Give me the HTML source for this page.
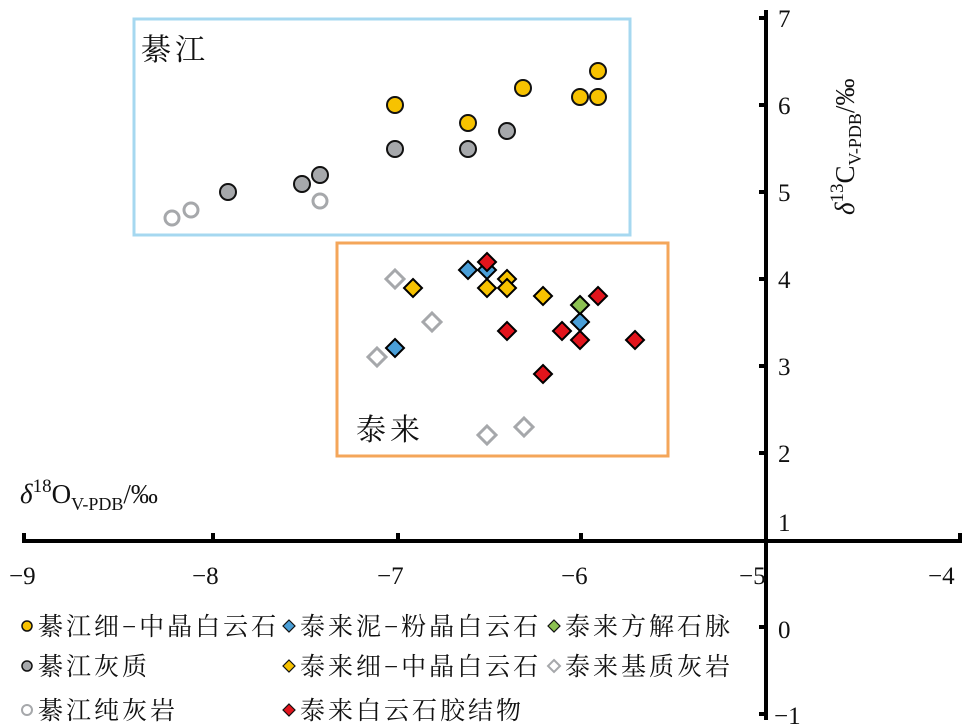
<!DOCTYPE html>
<html><head><meta charset="utf-8"><style>
body{margin:0;background:#fff}
svg{display:block}
text{font-family:"Liberation Serif","Noto Serif CJK SC",serif;fill:#111}
.cj{font-family:"Liberation Serif","Noto Serif CJK SC","Noto Sans CJK SC",serif}
</style></head><body>
<svg width="969" height="726" viewBox="0 0 969 726" xmlns="http://www.w3.org/2000/svg">
<rect x="134" y="19" width="496" height="216" fill="none" stroke="#a6d8f0" stroke-width="3"/>
<rect x="337" y="243" width="331" height="213" fill="none" stroke="#f4a65a" stroke-width="3"/>
<text x="141" y="60" font-size="30" letter-spacing="4" class="cj">綦江</text>
<text x="356" y="440" font-size="30" letter-spacing="4" class="cj">泰来</text>
<g stroke="#000" stroke-width="4" fill="none">
<line x1="22" y1="541" x2="962" y2="541"/>
<line x1="766" y1="10" x2="766" y2="720"/>
<path d="M24 541v-8M213 541v-8M398 541v-8M581 541v-8M960 541v-8"/>
<path d="M766 18h-7M766 105h-7M766 192h-7M766 279h-7M766 366h-7M766 453h-7M766 627h-7M766 714h-7"/>
</g>
<g font-size="25">
<text x="778" y="27">7</text><text x="778" y="114">6</text><text x="778" y="201">5</text>
<text x="778" y="288">4</text><text x="778" y="375">3</text><text x="778" y="462">2</text>
<text x="778" y="531">1</text><text x="778" y="638">0</text><text x="774" y="724">−1</text>
<text x="9" y="584">−9</text><text x="192" y="584">−8</text><text x="377" y="584">−7</text>
<text x="561" y="584">−6</text><text x="739" y="584">−5</text><text x="928" y="584">−4</text>
</g>
<text x="20" y="503" font-size="27"><tspan font-style="italic">δ</tspan><tspan font-size="19" dy="-11">18</tspan><tspan dy="11">O</tspan><tspan font-size="18" dy="7">V-PDB</tspan><tspan dy="-7">/‰</tspan></text>
<text transform="translate(854,215) rotate(-90)" font-size="27"><tspan font-style="italic">δ</tspan><tspan font-size="19" dy="-11">13</tspan><tspan dy="11">C</tspan><tspan font-size="18" dy="7">V-PDB</tspan><tspan dy="-7">/‰</tspan></text>
<g stroke="#111" stroke-width="2">
<g fill="#f7c200">
<circle cx="395" cy="105" r="8"/><circle cx="468" cy="123" r="8"/><circle cx="523" cy="88" r="8"/>
<circle cx="580" cy="97" r="8"/><circle cx="598" cy="97" r="8"/><circle cx="598" cy="71" r="8"/>
</g>
<g fill="#a6a8ab">
<circle cx="395" cy="149" r="8"/><circle cx="468" cy="149" r="8"/><circle cx="507" cy="131" r="8"/>
<circle cx="228" cy="192" r="8"/><circle cx="302" cy="184" r="8"/><circle cx="320" cy="175" r="8"/>
</g>
</g>
<g fill="none" stroke="#a6a8ab" stroke-width="3">
<circle cx="172" cy="218" r="7"/><circle cx="191" cy="210" r="7"/><circle cx="320" cy="201" r="7"/>
</g>
<defs>
<path id="d" d="M0-9L9 0L0 9L-9 0Z"/>
</defs>
<g stroke="#000" stroke-width="2">
<g fill="#4a9fd8">
<use href="#d" x="468" y="270"/><use href="#d" x="487" y="270"/><use href="#d" x="395" y="348"/><use href="#d" x="580" y="322"/>
</g>
<g fill="#f7c200">
<use href="#d" x="413" y="288"/><use href="#d" x="507" y="279"/><use href="#d" x="487" y="288"/><use href="#d" x="507" y="288"/><use href="#d" x="543" y="296"/>
</g>
<g fill="#8cc152"><use href="#d" x="580" y="305"/></g>
<g fill="#e2141c">
<use href="#d" x="487" y="262"/><use href="#d" x="507" y="331"/><use href="#d" x="562" y="331"/><use href="#d" x="580" y="340"/>
<use href="#d" x="598" y="296"/><use href="#d" x="635" y="340"/><use href="#d" x="543" y="374"/>
</g>
</g>
<g fill="none" stroke="#a6a8ab" stroke-width="3">
<use href="#d" x="395" y="279"/><use href="#d" x="432" y="322"/><use href="#d" x="377" y="357"/><use href="#d" x="487" y="435"/><use href="#d" x="524" y="427"/>
</g>
<g stroke="#111" stroke-width="1.5">
<circle cx="27" cy="626" r="5" fill="#f7c200"/>
<circle cx="27" cy="666" r="5" fill="#a6a8ab"/>
</g>
<circle cx="27" cy="710" r="5" fill="none" stroke="#a6a8ab" stroke-width="2"/>
<g stroke="#111" stroke-width="1.2">
<path d="M0-6L6 0L0 6L-6 0Z" transform="translate(289,626)" fill="#4a9fd8"/>
<path d="M0-6L6 0L0 6L-6 0Z" transform="translate(289,666)" fill="#f7c200"/>
<path d="M0-6L6 0L0 6L-6 0Z" transform="translate(289,710)" fill="#e2141c"/>
<path d="M0-6L6 0L0 6L-6 0Z" transform="translate(554,626)" fill="#8cc152"/>
</g>
<path d="M0-6L6 0L0 6L-6 0Z" transform="translate(554,666)" fill="none" stroke="#a6a8ab" stroke-width="2"/>
<g font-size="25" letter-spacing="3" class="cj">
<text x="38" y="635">綦江细−中晶白云石</text>
<text x="38" y="675">綦江灰质</text>
<text x="38" y="719">綦江纯灰岩</text>
<text x="300" y="635">泰来泥−粉晶白云石</text>
<text x="300" y="675">泰来细−中晶白云石</text>
<text x="300" y="719">泰来白云石胶结物</text>
<text x="565" y="635">泰来方解石脉</text>
<text x="565" y="675">泰来基质灰岩</text>
</g>
</svg>
</body></html>
